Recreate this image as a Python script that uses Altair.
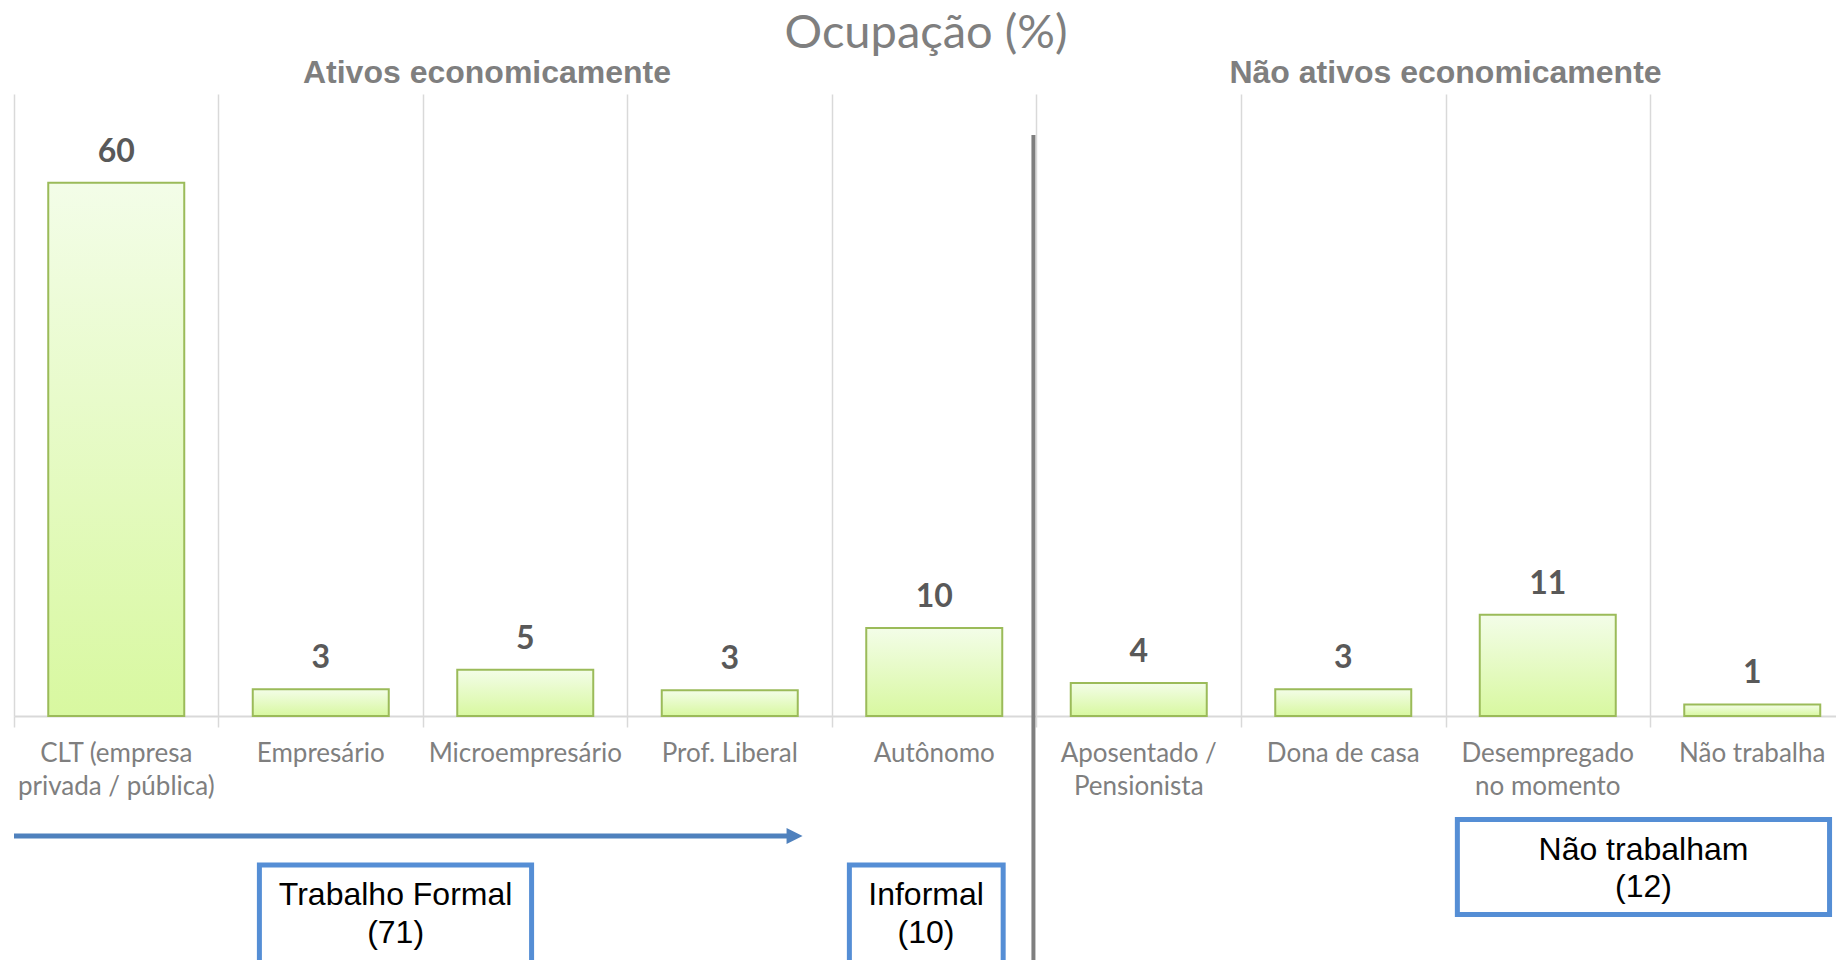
import altair as alt
import pandas as pd

# ---- data ----
categories = [
    "CLT (empresa\nprivada / pública)",
    "Empresário",
    "Microempresário",
    "Prof. Liberal",
    "Autônomo",
    "Aposentado /\nPensionista",
    "Dona de casa",
    "Desempregado\nno momento",
    "Não trabalha",
]
values = [60.0, 3.0, 5.2, 2.9, 9.9, 3.7, 3.0, 11.4, 1.3]
chart_title = "Ocupação (%)"
group_titles = ["Ativos economicamente", "Não ativos economicamente"]
box_labels = ["Trabalho Formal\n(71)", "Informal\n(10)", "Não trabalham\n(12)"]

df = pd.DataFrame({"cat": categories, "val": values, "idx": list(range(len(categories)))})

W, H = 1822, 622
XMAX = W / 204.5
CAL = "Lato"
ARI = "Liberation Sans"
BLUE = "#558ed5"

xs = alt.Scale(domain=[0, XMAX], nice=False, zero=False, padding=0)
ys = alt.Scale(domain=[0, 70], nice=False)

base = alt.Chart(df).transform_calculate(center="datum.idx + 0.5")

grad = alt.Gradient(
    gradient="linear",
    stops=[alt.GradientStop(color="#f3fde8", offset=0),
           alt.GradientStop(color="#d8f8a0", offset=1)],
    x1=0, x2=0, y1=0, y2=1,
)

bars = base.mark_bar(size=136, fill=grad, stroke="#9bbb59", strokeWidth=2).encode(
    x=alt.X("center:Q", scale=xs,
            axis=alt.Axis(values=list(range(9)), grid=True, gridColor="#d9d9d9", gridWidth=1.5,
                          ticks=True, tickSize=11, tickColor="#d9d9d9", tickWidth=1.5,
                          labels=False, domain=True, domainColor="#d9d9d9", domainWidth=2,
                          title=None, orient="bottom")),
    y=alt.Y("val:Q", scale=ys, axis=None),
)

vlabels = base.mark_text(font=CAL, fontWeight="bold", fontSize=32, color="#595959",
                         baseline="alphabetic", dy=-21).encode(
    x=alt.X("center:Q", scale=xs),
    y=alt.Y("val:Q", scale=ys, axis=None),
    text=alt.Text("val:Q", format=".0f"))

clabels = base.mark_text(font=CAL, fontSize=26, color="#7f7f7f", baseline="alphabetic",
                         lineBreak="\n", lineHeight=33.5, clip=False).encode(
    x=alt.X("center:Q", scale=xs), y=alt.value(H + 45.5), text="cat:N")


def txt(s, x, y, font, size, color, weight="normal", lh=None):
    kw = dict(font=font, fontSize=size, color=color, fontWeight=weight, clip=False,
              baseline="alphabetic", align="center", lineBreak="\n")
    if lh:
        kw["lineHeight"] = lh
    return alt.Chart(pd.DataFrame({"t": [s]})).mark_text(**kw).encode(
        x=alt.datum(x), y=alt.value(y), text="t:N")


title = txt(chart_title, 4.46, -46, CAL, 47, "#7f7f7f")
g1 = txt(group_titles[0], 2.313, -11, ARI, 32, "#7f7f7f", "bold")
g2 = txt(group_titles[1], 7.0, -11, ARI, 32, "#7f7f7f", "bold")

one = pd.DataFrame({"a": [0]})
divider = alt.Chart(one).mark_rule(color="#7f7f7f", strokeWidth=4, clip=False).encode(
    x=alt.datum(4.985), y=alt.value(41), y2=alt.value(900))

arrow_line = alt.Chart(one).mark_rule(color="#4f81bd", strokeWidth=5, clip=False).encode(
    x=alt.datum(0.0), x2=alt.datum(3.80), y=alt.value(742))
arrow_head = alt.Chart(one).mark_point(
    shape="M-1,-1L1,0L-1,1Z", size=256, filled=True, fill="#4f81bd", opacity=1,
    strokeWidth=0, clip=False).encode(
    x=alt.datum(3.817), y=alt.value(742))


def box(x1, x2, y1, y2):
    return alt.Chart(one).mark_rect(
        fill="white", stroke=BLUE, strokeWidth=5, clip=False).encode(
        x=alt.datum(x1), x2=alt.datum(x2), y=alt.value(y1), y2=alt.value(y2))


b1 = box(1.200, 2.531, 771, 900)
b2 = box(4.085, 4.837, 771, 900)
b3 = box(7.058, 8.878, 725.5, 820.5)
t1 = txt(box_labels[0], 1.866, 811, ARI, 32, "black", lh=38)
t2 = txt(box_labels[1], 4.46, 811, ARI, 32, "black", lh=38)
t3 = txt(box_labels[2], 7.968, 766, ARI, 32, "black", lh=37)

chart = alt.layer(
    bars, vlabels, clabels, title, g1, g2, divider, arrow_line, arrow_head,
    b1, b2, b3, t1, t2, t3
).properties(
    width=W, height=H,
    background="white",
    autosize=alt.AutoSizeParams(type="none"),
    padding={"left": 6, "top": 86, "right": 0, "bottom": 244},
).configure_axis(
    grid=False, domain=False, ticks=False, labels=False, title=None
).configure_view(strokeWidth=0, stroke="transparent")

chart.save("out.html", embed_options={"renderer": "svg", "actions": False})
